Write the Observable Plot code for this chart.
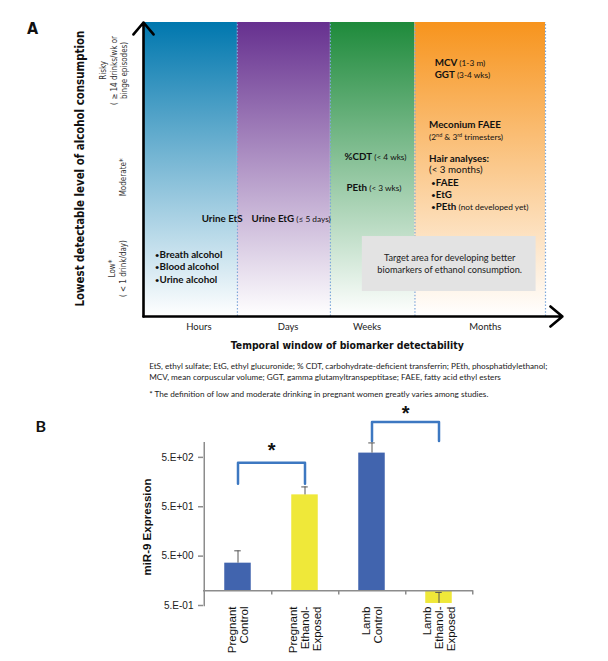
<!DOCTYPE html>
<html><head><meta charset="utf-8">
<script src="https://cdn.jsdelivr.net/npm/d3@7"></script>
<script src="https://cdn.jsdelivr.net/npm/@observablehq/plot@0.6"></script>
<style>
body{margin:0;background:#fff;}
#wrap{width:608px;height:661px;overflow:hidden;background:#fff;}
svg{display:block;}
</style></head><body><div id="wrap"></div>
<script>
// ---------- Panel A data ----------
const windows = ["Hours", "Days", "Weeks", "Months"];
const windowEdges = [0, 1, 1.99, 2.89, 4.28];
const windowColors = ["#0077AE", "#66308F", "#1E8A3B", "#F7941D"];
const windowLabelX = [0.59, 1.54, 2.38, 3.64];
const levelLabels = ["Low*\n( < 1 drink/day)", "Moderate*", "Risky\n( \u2265 14 drinks/wk or\nbinge episodes)"];
const levelY = [1.63, 4.73, 8.37];
const levelX = [-0.28, -0.22, -0.32];
const markerText = [
  "**Urine EtS**",
  "**Urine EtG** (\u2264 5 days)",
  "\u2022**Breath alcohol**",
  "\u2022**Blood alcohol**",
  "\u2022**Urine alcohol**",
  "**%CDT** (< 4 wks)",
  "**PEth** (< 3 wks)",
  "**MCV** (1-3 m)",
  "**GGT** (3-4 wks)",
  "**Meconium FAEE**",
  "(2^nd^ & 3^rd^ trimesters)",
  "**Hair analyses:**",
  "(< 3 months)",
  "\u2022**FAEE**",
  "\u2022**EtG**",
  "\u2022**PEth** (not developed yet)"
];
const markerX = [0.62, 1.15, 0.12, 0.12, 0.12, 2.14, 2.16, 3.10, 3.10, 3.04, 3.04, 3.04, 3.04, 3.06, 3.06, 3.06];
const markerY = [3.33, 3.33, 2.11, 1.70, 1.26, 5.44, 4.39, 8.64, 8.23, 6.53, 6.12, 5.37, 5.00, 4.56, 4.15, 3.74];
const targetBox = {x1: 2.33, x2: 4.18, y1: 0.85, y2: 2.72, cx: 3.26, cy: 1.8,
  text: "Target area for developing better\nbiomarkers of ethanol consumption."};
const footnotes = [
  "EtS, ethyl sulfate; EtG, ethyl glucuronide; % CDT, carbohydrate-deficient transferrin; PEth, phosphatidylethanol;",
  "MCV, mean corpuscular volume; GGT, gamma glutamyltranspeptitase; FAEE, fatty acid ethyl esters",
  "* The definition of low and moderate drinking in pregnant women greatly varies among studies."
];
const footnoteY = [-1.70, -2.07, -2.65];

// ---------- Panel B data ----------
const groups = ["Pregnant\nControl", "Pregnant\nEthanol-\nExposed", "Lamb\nControl", "Lamb\nEthanol-\nExposed"];
const expression = [3.6, 87, 610, 0.55];
const errorTop = [6.4, 126, 980, 0.92];
const barColors = ["#4164AE", "#EFE839", "#4164AE", "#EFE839"];
const yTicks = [0.5, 5, 50, 500];
const yTickLabels = ["5.E-01", "5.E+00", "5.E+01", "5.E+02"];
const brackets = [
  {from: 0, to: 1, top: 388, foot: 146, star: 700},
  {from: 2, to: 3, top: 2600, foot: 1070, star: 3800}
];

const condensed = "'DejaVu Sans Condensed', 'Liberation Sans Narrow', 'Roboto Condensed', Roboto, sans-serif";
const calibri = "Lato, 'Open Sans', sans-serif";

// ---------- Panel A ----------
const cols = windows.map((w, i) => ({w, x1: windowEdges[i], x2: windowEdges[i + 1], fill: `url(#grad${i})`}));
const markers = markerText.map((t, i) => ({t, x: markerX[i], y: markerY[i]}));
const levels = levelLabels.map((t, i) => ({t, x: levelX[i], y: levelY[i]}));
const axesArrows = [
  {x1: 0, y1: 0, x2: 0, y2: 10},
  {x1: 0, y1: 0, x2: 4.46, y2: 0}
];

const plotA = Plot.plot({
  width: 608, height: 400,
  marginLeft: 143, marginRight: 63, marginTop: 22, marginBottom: 84,
  x: {domain: [0, 4.28], axis: null},
  y: {domain: [0, 10], axis: null},
  color: {type: "identity"},
  style: {fontFamily: calibri, background: "white", overflow: "visible"},
  marks: [
    Plot.rect(cols, {x1: "x1", x2: "x2", y1: 0, y2: 10, fill: "fill"}),
    Plot.ruleX(windowEdges.slice(1), {y1: 0, y2: 10, stroke: "#7DA7D9", strokeWidth: 1.2, strokeDasharray: "1.5,1.8"}),
    Plot.rect([targetBox], {x1: "x1", x2: "x2", y1: "y1", y2: "y2", fill: "#E3E3E3"}),
    Plot.text([targetBox], {x: "cx", y: "cy", text: "text", fontSize: 9.2, lineHeight: 1.3, fill: "#222"}),
    Plot.text(markers, {x: "x", y: "y", text: "t", textAnchor: "start", fontSize: 9.8, fill: "#111"}),
    Plot.arrow(axesArrows, {x1: "x1", y1: "y1", x2: "x2", y2: "y2", stroke: "black", strokeWidth: 2.6, headLength: 9, headAngle: 80}),
    Plot.text(windows, {x: (d, i) => windowLabelX[i], y: -0.34, text: d => d, fontSize: 9.5, fill: "#222"}),
    Plot.text(["Temporal window of biomarker detectability"], {x: 2.17, y: -0.99, text: d => d, fontFamily: condensed, fontSize: 10.4, fontWeight: "bold", fill: "#111"}),
    Plot.text(footnotes, {x: 0.06, y: (d, i) => footnoteY[i], text: d => d, textAnchor: "start", fontSize: 8.2, fill: "#222"}),
    Plot.text(["Lowest detectable level of alcohol consumption"], {x: -0.67, y: 5.03, text: d => d, rotate: -90, fontFamily: condensed, fontSize: 11.4, fontWeight: "bold", fill: "#111"}),
    Plot.text(levels, {x: "x", y: "y", text: "t", rotate: -90, fontFamily: condensed, fontSize: 8, lineHeight: 1.3, fill: "#333"}),
    Plot.text(["A"], {x: -1.18, y: 9.8, text: d => d, fontFamily: condensed, fontSize: 16, fontWeight: "bold", fill: "#111"})
  ]
});

// gradients for the time-window columns
const defs = d3.select(plotA).insert("defs", ":first-child");
windowColors.forEach((c, i) => {
  const g = defs.append("linearGradient").attr("id", "grad" + i)
    .attr("x1", 0).attr("y1", 0).attr("x2", 0).attr("y2", 1);
  g.append("stop").attr("offset", "0%").attr("stop-color", c);
  g.append("stop").attr("offset", "100%").attr("stop-color", "#ffffff");
});

// simple rich text: **bold**, ^superscript^, rest smaller normal
d3.select(plotA).selectAll("text").each(function () {
  const t = this.textContent;
  if (!/\*\*|\^/.test(t)) return;
  const parts = t.split(/(\*\*[^*]+\*\*|\^[^^]+\^)/).filter(s => s.length);
  const sel = d3.select(this);
  sel.text(null);
  parts.forEach(p => {
    if (p.startsWith("**")) sel.append("tspan").attr("font-weight", "bold").text(p.slice(2, -2));
    else if (p.startsWith("^")) sel.append("tspan").attr("baseline-shift", "super").attr("font-size", "5.5px").text(p.slice(1, -1));
    else sel.append("tspan").attr("font-size", "8.3px").text(p);
  });
});

// ---------- Panel B ----------
const bars = groups.map((g, i) => ({g, v: expression[i], e: errorTop[i], c: barColors[i]}));
const mL = 203, mR = 135;
const frameW = 608 - mL - mR;
const bandW = frameW / groups.length;
const bracketPts = brackets.flatMap((b, k) => [
  {id: k, x: groups[b.from], y: b.foot},
  {id: k, x: groups[b.from], y: b.top},
  {id: k, x: groups[b.to], y: b.top},
  {id: k, x: groups[b.to], y: b.foot}
]);
const axisGray = "#8C8C8C";

const plotB = Plot.plot({
  width: 608, height: 261,
  marginLeft: mL, marginRight: mR, marginTop: 42, marginBottom: 56,
  x: {domain: groups, padding: 0, axis: null},
  y: {type: "log", domain: [0.5, 1000], axis: null},
  color: {type: "identity"},
  style: {fontFamily: "'Liberation Sans', Arial, sans-serif", background: "white", overflow: "visible"},
  marks: [
    Plot.barY(bars, {x: "g", y1: 1, y2: "v", fill: "c", insetLeft: bandW * 0.3, insetRight: bandW * 0.3}),
    Plot.ruleY([1], {stroke: axisGray, strokeWidth: 1.5}),
    Plot.ruleX(groups, {x: d => d, dx: bandW / 2, y1: 1, y2: 0.82, stroke: axisGray, strokeWidth: 1.5}),
    Plot.ruleX([groups[0]], {x: d => d, dx: -bandW / 2, y1: 0.47, y2: 1000, stroke: axisGray, strokeWidth: 1.5}),
    Plot.tickY(yTicks, {y: d => d, insetLeft: -5, insetRight: frameW, stroke: axisGray, strokeWidth: 1.5}),
    Plot.text(yTicks, {y: d => d, frameAnchor: "left", dx: -10, textAnchor: "end", text: (d, i) => yTickLabels[i], fontSize: 10, fill: "#222"}),
    Plot.ruleX(bars, {x: "g", y1: "v", y2: "e", stroke: "#555", strokeWidth: 1}),
    Plot.tickY(bars, {x: "g", y: "e", insetLeft: bandW / 2 - 3.5, insetRight: bandW / 2 - 3.5, stroke: "#555", strokeWidth: 1}),
    Plot.line(bracketPts, {x: "x", y: "y", z: "id", stroke: "#3D78C1", strokeWidth: 2.5, strokeLinejoin: "round", strokeLinecap: "round"}),
    Plot.text(brackets, {x: d => groups[d.from], y: "star", dx: bandW / 2, text: () => "*", fontSize: 20, fontWeight: "bold", fill: "#111"}),
    Plot.text(groups, {x: d => d, frameAnchor: "bottom", rotate: -90, textAnchor: "end", lineAnchor: "middle", dy: 1, fontSize: 11.5, lineHeight: 1.05, fill: "#111"}),
    Plot.text(["miR-9 Expression"], {frameAnchor: "left", textAnchor: "middle", dx: -56, dy: 3, rotate: -90, text: d => d, fontWeight: "bold", fontSize: 11.5, fill: "#111"}),
    Plot.text(["B"], {frameAnchor: "top-left", dx: -168, dy: -22, text: d => d, fontFamily: calibri, fontWeight: "bold", fontSize: 16, fill: "#111"})
  ]
});

document.getElementById("wrap").append(plotA, plotB);
</script></body></html>
